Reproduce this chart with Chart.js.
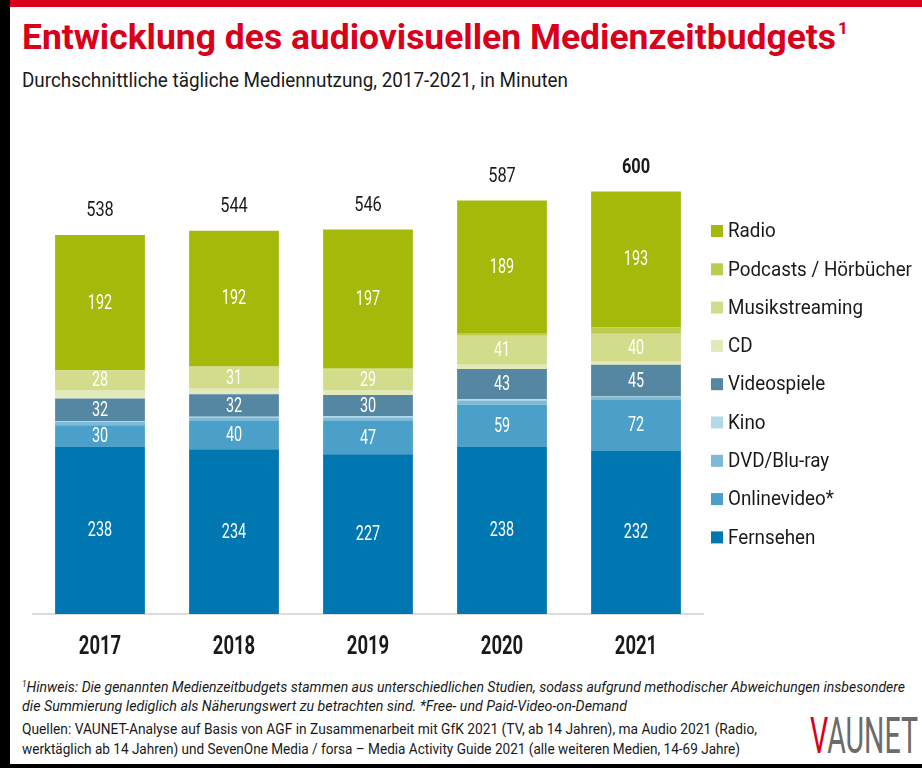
<!DOCTYPE html>
<html lang="de">
<head>
<meta charset="utf-8">
<script src="https://cdn.jsdelivr.net/npm/chart.js@4.4.1/dist/chart.umd.min.js"></script>
<style>
  body { margin: 0; width: 922px; height: 768px; background: #000; overflow: hidden;
         font-family: Roboto, "Noto Sans", sans-serif; }
  #page { position: absolute; left: 10px; top: 0; width: 912px; height: 764px; background: #fff; }
  #topbar { position: absolute; left: 0; top: 0; width: 912px; height: 7px; background: #d9001b; }
  .fit { position: absolute; left: 12px; margin: 0; white-space: nowrap; line-height: 1; transform-origin: 0 0; }
  h1 { top: 20px; font-size: 35px; font-weight: bold; color: #d9001b; }
  h1 sup { font-size: 17px; vertical-align: 0; position: relative; top: -15px; margin-left: 2px; }
  #sub { top: 70px; font-size: 20px; color: #1a1a1a; }
  #wrap { position: absolute; left: 0; top: 110px; width: 912px; height: 560px; }
  .note { font-size: 15px; color: #1a1a1a; }
  .note sup { font-size: 9px; vertical-align: 0; position: relative; top: -5px; }
  #logo { position: absolute; left: 800px; top: 711px; font-size: 50px; line-height: 1; color: #6b6b6b;
          white-space: nowrap; transform-origin: 0 0; }
  #logo span { color: #d9001b; }
</style>
</head>
<body>
<div id="page">
  <div id="topbar"></div>
  <h1 class="fit" data-w="826">Entwicklung des audiovisuellen Medienzeitbudgets<sup>1</sup></h1>
  <div id="sub" class="fit" data-w="546">Durchschnittliche tägliche Mediennutzung, 2017-2021, in Minuten</div>
  <div id="wrap"><canvas id="chart"></canvas></div>
  <div class="fit note" data-w="883" style="top:680px"><i><sup>1</sup>Hinweis: Die genannten Medienzeitbudgets stammen aus unterschiedlichen Studien, sodass aufgrund methodischer Abweichungen insbesondere</i></div>
  <div class="fit note" data-w="605" style="top:699px"><i>die Summierung lediglich als Näherungswert zu betrachten sind. *Free- und Paid-Video-on-Demand</i></div>
  <div class="fit note" data-w="735" style="top:722px">Quellen: VAUNET-Analyse auf Basis von AGF in Zusammenarbeit mit GfK 2021 (TV, ab 14 Jahren), ma Audio 2021 (Radio,</div>
  <div class="fit note" data-w="718" style="top:742px">werktäglich ab 14 Jahren) und SevenOne Media / forsa – Media Activity Guide 2021 (alle weiteren Medien, 14-69 Jahre)</div>
  <div id="logo" data-w="108"><span>V</span>AUNET</div>
</div>
<script>
const years = ['2017', '2018', '2019', '2020', '2021'];
const fernsehen   = [238, 234, 227, 238, 232];
const onlinevideo = [30, 40, 47, 59, 72];
const dvdBluray   = [5, 5, 5, 6, 4];
const kino        = [1, 1, 2, 2, 1];
const videospiele = [32, 32, 30, 43, 45];
const cd          = [12, 8, 7, 6, 4];
const musik       = [28, 31, 29, 41, 40];
const podcasts    = [0, 1, 2, 3, 9];
const radio       = [192, 192, 197, 189, 193];
const totals      = [538, 544, 546, 587, 600];

const FONT = 'Roboto, "Noto Sans", sans-serif';

// squeeze html text to the width it has in the original (condensed typeface)
document.querySelectorAll('[data-w]').forEach(el => {
  const w = el.getBoundingClientRect().width;
  el.style.transform = 'scaleX(' + (el.dataset.w / w) + ')';
});

// bottom to top, the order the segments are stacked
const series = [
  { label: 'Fernsehen', data: fernsehen, color: '#0077b0', showValue: true },
  { label: 'Onlinevideo*', data: onlinevideo, color: '#4aa0c8', showValue: true },
  { label: 'DVD/Blu-ray', data: dvdBluray, color: '#7dbad8', showValue: false },
  { label: 'Kino', data: kino, color: '#b3d8e8', showValue: false },
  { label: 'Videospiele', data: videospiele, color: '#5587a3', showValue: true },
  { label: 'CD', data: cd, color: '#e3eab9', showValue: false },
  { label: 'Musikstreaming', data: musik, color: '#d2dc8a', showValue: true },
  { label: 'Podcasts / Hörbücher', data: podcasts, color: '#bdcb4f', showValue: false },
  { label: 'Radio', data: radio, color: '#a4b90a', showValue: true }
];

function squeezed(ctx, text, x, y, sx) {
  ctx.save();
  ctx.translate(x, y);
  ctx.scale(sx, 1);
  ctx.fillText(text, 0, 0);
  ctx.restore();
}

// segment values, totals, year labels and the legend on the right
const labelPlugin = {
  id: 'labels',
  afterDatasetsDraw(chart) {
    const ctx = chart.ctx;
    const area = chart.chartArea;
    const xScale = chart.scales.x;
    ctx.save();
    ctx.textAlign = 'center';
    ctx.textBaseline = 'middle';
    ctx.font = '20px ' + FONT;
    ctx.fillStyle = '#fff';
    chart.data.datasets.forEach((ds, i) => {
      if (!series[i].showValue) return;
      chart.getDatasetMeta(i).data.forEach((bar, j) => {
        squeezed(ctx, ds.data[j], bar.x, (bar.y + bar.base) / 2 + 1, 0.72);
      });
    });
    const top = chart.getDatasetMeta(chart.data.datasets.length - 1).data;
    ctx.fillStyle = '#1a1a1a';
    top.forEach((bar, j) => {
      ctx.font = (j === top.length - 1 ? 'bold ' : '') + '21px ' + FONT;
      squeezed(ctx, totals[j], bar.x, bar.y - 24, 0.78);
    });

    ctx.font = 'bold 25px ' + FONT;
    years.forEach((y, j) => {
      squeezed(ctx, y, xScale.getPixelForValue(j), area.bottom + 34, 0.74);
    });

    // legend, Radio first
    ctx.textAlign = 'left';
    ctx.font = '21px ' + FONT;
    const sx = 184 / ctx.measureText('Podcasts / Hörbücher').width;
    for (let k = series.length - 1, row = 0; k >= 0; k--, row++) {
      const y = area.top + 110 + row * 38.3;
      ctx.fillStyle = series[k].color;
      ctx.fillRect(area.right + 8, y - 6, 12, 12);
      ctx.fillStyle = '#1a1a1a';
      squeezed(ctx, series[k].label, area.right + 25, y + 1, sx);
    }
    ctx.restore();
  }
};

new Chart(document.getElementById('chart'), {
  type: 'bar',
  data: {
    labels: years,
    datasets: series.map(s => ({
      label: s.label,
      data: s.data,
      backgroundColor: s.color,
      borderWidth: 0,
      barPercentage: 0.67,
      categoryPercentage: 1
    }))
  },
  options: {
    responsive: true,
    maintainAspectRatio: false,
    animation: false,
    layout: { padding: { left: 23, right: 219, top: 11, bottom: 56 } },
    plugins: {
      legend: { display: false },
      tooltip: { enabled: false }
    },
    scales: {
      x: {
        stacked: true,
        grid: { display: false, drawTicks: false },
        border: { display: true, color: '#dcdcdc', width: 2 },
        ticks: { display: false }
      },
      y: {
        stacked: true,
        display: false,
        min: 0,
        max: 700
      }
    }
  },
  plugins: [labelPlugin]
});
</script>
</body>
</html>
